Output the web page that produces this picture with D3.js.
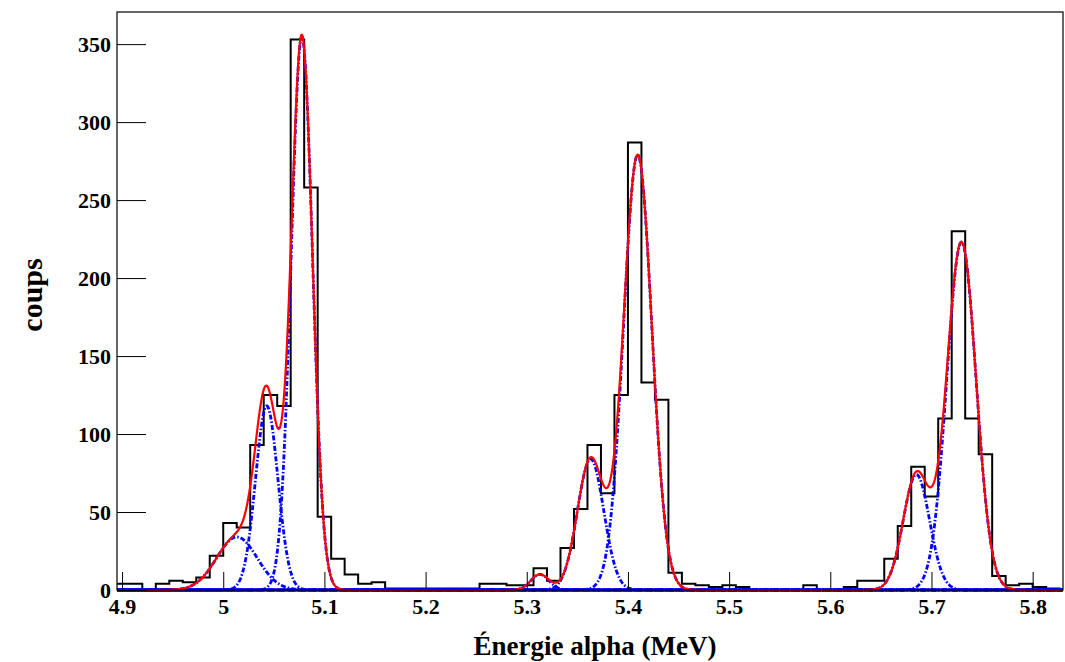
<!DOCTYPE html>
<html>
<head>
<meta charset="utf-8">
<script src="https://cdn.jsdelivr.net/npm/d3@7"></script>
<style>
  html, body { margin: 0; padding: 0; background: #ffffff; }
  svg { display: block; }
  text { font-family: "Liberation Serif", "Times New Roman", serif; font-weight: bold; }
</style>
</head>
<body>
<svg id="chart" width="1065" height="662"></svg>
<script>
// ---------------- data ----------------
// histogram: bins of width 1/75 MeV, first bin lower edge = 367/75 MeV
const binFirstIndex = 367;
const binsPerMeV = 75;
const counts = [
  4, 4, 0, 4, 6, 5, 8, 22, 43, 40,
  93, 125, 118, 353, 258, 47, 20, 10, 4, 5,
  1, 1, 1, 1, 1, 1, 1, 4, 4, 3,
  3, 14, 6, 27, 52, 93, 62, 125, 287, 133,
  122, 11, 4, 3, 2, 3, 2, 0, 0, 0,
  0, 3, 0, 0, 2, 6, 6, 20, 41, 79,
  60, 110, 230, 110, 87, 9, 3, 4, 2, 1,
  0
];
// fitted gaussian components (amplitude in counts, mean and sigma in MeV)
const compAmp   = [34,     118,    355,    10,    84,     279,    74,     223];
const compMean  = [5.0135, 5.043,  5.0777, 5.313, 5.3631, 5.4096, 5.6851, 5.7296];
const compSigma = [0.020,  0.011,  0.0105, 0.009, 0.013,  0.014,  0.013,  0.0145];

const xDomain = [4.895, 5.83];
const yDomain = [0, 370.6];
const xTickValues = [4.9, 5.0, 5.1, 5.2, 5.3, 5.4, 5.5, 5.6, 5.7, 5.8];
const yTickValues = [0, 50, 100, 150, 200, 250, 300, 350];
const xTitle = "Énergie alpha (MeV)";
const yTitle = "coups";

// ---------------- layout ----------------
const W = 1065, H = 662;
const L = 117, R = 1063, T = 12, B = 590;

const svg = d3.select("#chart");
svg.append("rect").attr("width", W).attr("height", H).attr("fill", "#fff");

const x = d3.scaleLinear().domain(xDomain).range([L, R]);
const y = d3.scaleLinear().domain(yDomain).range([B, T]);

svg.append("defs").append("clipPath").attr("id", "clip")
  .append("rect").attr("x", L).attr("y", T - 2).attr("width", R - L).attr("height", B - T + 4);

// ---------------- histogram ----------------
const bins = counts.map((c, i) => ({
  x0: (binFirstIndex + i) / binsPerMeV,
  x1: (binFirstIndex + i + 1) / binsPerMeV,
  c: c
}));
let p = d3.path();
p.moveTo(x(bins[0].x0), y(0));
bins.forEach(b => {
  p.lineTo(x(b.x0), y(b.c));
  p.lineTo(x(b.x1), y(b.c));
});
p.lineTo(x(bins[bins.length - 1].x1), y(0));

const plot = svg.append("g").attr("clip-path", "url(#clip)");
plot.append("path").attr("d", p.toString())
  .attr("fill", "none").attr("stroke", "#000").attr("stroke-width", 2);

// ---------------- fit curves ----------------
const gauss = (i, e) => compAmp[i] * Math.exp(-0.5 * Math.pow((e - compMean[i]) / compSigma[i], 2));
const samples = d3.range(xDomain[0], xDomain[1] + 1e-9, 0.0004);
const line = d3.line().x(d => x(d[0])).y(d => y(d[1])).curve(d3.curveLinear);

compAmp.forEach((a, i) => {
  plot.append("path")
    .attr("d", line(samples.map(e => [e, gauss(i, e)])))
    .attr("fill", "none").attr("stroke", "#0000ff").attr("stroke-width", 2.8)
    .attr("stroke-dasharray", "5,2,1.5,2")
    .attr("stroke-dashoffset", i * 1.3);
});
plot.append("path")
  .attr("d", line(samples.map(e => [e, d3.sum(compAmp, (a, i) => gauss(i, e))])))
  .attr("fill", "none").attr("stroke", "#ff0000").attr("stroke-width", 2.2);

// ---------------- axes ----------------
const minorX = d3.range(4.9, 5.83, 0.02).map(v => +v.toFixed(2));
const minorY = d3.range(0, 371, 10);

const gx = svg.append("g").attr("transform", `translate(0,${B})`);
gx.call(d3.axisBottom(x).tickValues(minorX).tickSize(-9).tickFormat(""));
gx.call(d3.axisBottom(x).tickValues(xTickValues).tickSize(-18).tickPadding(8)
  .tickFormat(d3.format("~g")));
gx.selectAll(".domain").remove();
gx.selectAll("line").attr("stroke", "#000").attr("stroke-width", 1);
gx.selectAll("text").attr("font-size", 22).attr("fill", "#000")
  .style("font-family", "'Liberation Serif', serif").style("font-weight", "bold");

const gy = svg.append("g").attr("transform", `translate(${L},0)`);
gy.call(d3.axisLeft(y).tickValues(minorY).tickSize(-14).tickFormat(""));
gy.call(d3.axisLeft(y).tickValues(yTickValues).tickSize(-29).tickPadding(6));
gy.selectAll(".domain").remove();
gy.selectAll("line").attr("stroke", "#000").attr("stroke-width", 1);
gy.selectAll("text").attr("font-size", 22).attr("fill", "#000")
  .style("font-family", "'Liberation Serif', serif").style("font-weight", "bold");

// frame
svg.append("rect").attr("x", L).attr("y", T).attr("width", R - L).attr("height", B - T)
  .attr("fill", "none").attr("stroke", "#000").attr("stroke-width", 1.2);

// titles
svg.append("text").attr("x", (L + R) / 2 + 5).attr("y", 655)
  .attr("text-anchor", "middle").attr("font-size", 27).text(xTitle);
svg.append("text").attr("transform", `translate(42,${(T + B) / 2 - 6}) rotate(-90)`)
  .attr("text-anchor", "middle").attr("font-size", 30).text(yTitle);
</script>
</body>
</html>
